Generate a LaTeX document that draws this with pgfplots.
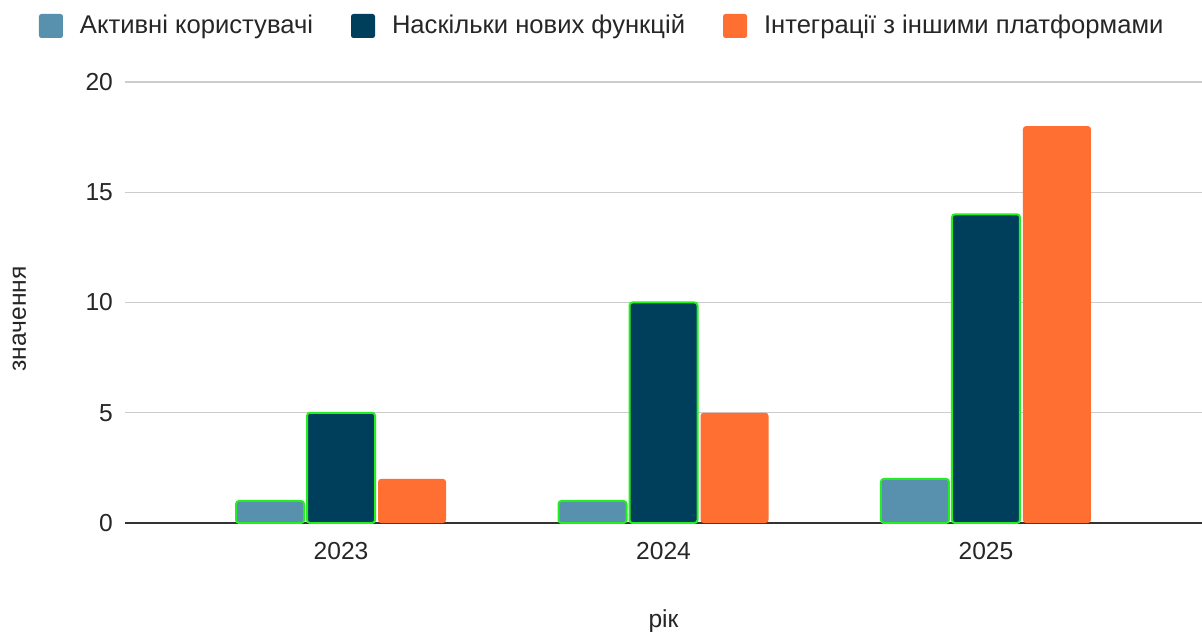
\documentclass[border=0pt]{standalone}
\usepackage{pgfplots}
\pgfplotsset{compat=1.18}
\usepackage{fontspec}
\setmainfont{Liberation Sans}
\definecolor{cA}{HTML}{5891AD}
\definecolor{cB}{HTML}{003F5C}
\definecolor{cC}{HTML}{FF6F31}
\definecolor{edge}{HTML}{22EE22}
\definecolor{gridc}{HTML}{CCCCCC}
\begin{document}
\begin{tikzpicture}
\useasboundingbox (-62.5pt,-54pt) rectangle (538.5pt,261.5pt);
\begin{axis}[
    scale only axis,
    width=538.5pt, height=220.5pt,
    ybar=1.5pt, bar width=34pt,
    xmin=-0.67, xmax=2.67,
    ymin=0, ymax=20,
    xtick={0,1,2}, xticklabels={2023,2024,2025},
    ytick={0,5,10,15,20},
    axis lines=left,
    x axis line style={-, draw=black!80, line width=0.9pt},
    y axis line style={draw=none},
    tick style={draw=none},
    ymajorgrids, grid style={gridc, line width=0.7pt},
    /pgf/number format/assume math mode=true,
    every tick label/.append style={font=\fontsize{12.3}{14}\selectfont, text=black!85},
    yticklabel style={xshift=-0.4pt},
    xticklabel style={yshift=-4pt},
    ylabel={значення}, xlabel={рік},
    label style={font=\fontsize{12.3}{14}\selectfont, text=black!85},
    ylabel style={at={(axis description cs:-0.098,0.463)}, anchor=center},
    xlabel style={at={(axis description cs:0.5,0)}, yshift=-49pt, anchor=center},
    legend columns=3,
    legend cell align=left,
    legend style={at={(0.444,1.127)}, anchor=center, draw=none, fill=none,
        font=\fontsize{12.8}{15}\selectfont, text=black!85,
        /tikz/every even column/.append style={column sep=17pt},
        /tikz/every odd column/.append style={column sep=6.5pt}},
    legend image code/.code={\fill[#1, draw=none, rounded corners=1.2pt] (0pt,-6pt) rectangle (12pt,6pt);},
]
\addplot[fill=cA, draw=edge, line width=1pt, rounded corners=1.5pt] coordinates {(0,1) (1,1) (2,2)};
\addlegendentry{Активні користувачі}
\addplot[fill=cB, draw=edge, line width=1pt, rounded corners=1.5pt] coordinates {(0,5) (1,10) (2,14)};
\addlegendentry{Наскільки нових функцій}
\addplot[fill=cC, draw=none, rounded corners=1.5pt] coordinates {(0,2) (1,5) (2,18)};
\addlegendentry{Інтеграції з іншими платформами}
\end{axis}
\end{tikzpicture}
\end{document}
